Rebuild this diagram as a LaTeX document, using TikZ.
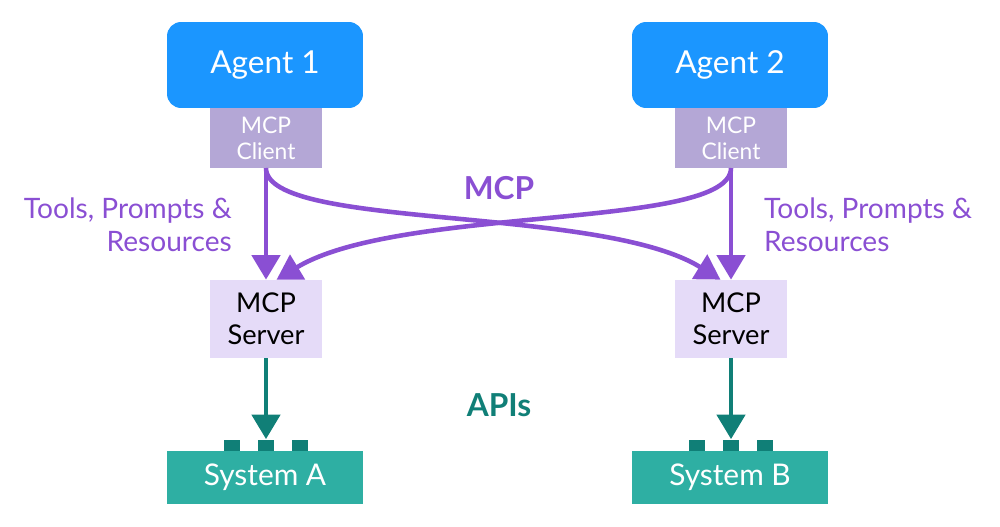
\documentclass[tikz,border=0pt]{standalone}
\usepackage{fontspec}
\setmainfont{Lato}
\usetikzlibrary{arrows.meta}
\definecolor{agent}{HTML}{1B96FF}
\definecolor{client}{HTML}{B4A7D6}
\definecolor{server}{HTML}{E5DBF8}
\definecolor{sys}{HTML}{2EAFA3}
\definecolor{port}{HTML}{107F77}
\definecolor{mcp}{HTML}{8A4FD3}
\begin{document}
\begin{tikzpicture}[x=0.02cm,y=-0.02cm,
 agentb/.style={fill=agent,rounded corners=8pt,minimum width=3.92cm,minimum height=1.72cm,text=white,font=\fontsize{18}{21}\selectfont,inner sep=0pt},
 clientb/.style={fill=client,minimum width=2.24cm,minimum height=1.2cm,text=white,font=\fontsize{13}{15}\selectfont,align=center,inner sep=0pt},
 serverb/.style={fill=server,minimum width=2.24cm,minimum height=1.56cm,font=\fontsize{15.5}{18}\selectfont,align=center,inner sep=0pt},
 sysb/.style={fill=sys,minimum width=3.92cm,minimum height=1.06cm,text=white,font=\fontsize{17}{20}\selectfont,inner sep=0pt},
 portb/.style={fill=port,minimum width=0.32cm,minimum height=0.22cm,inner sep=0pt},
 marr/.style={draw=mcp,line width=2.6pt,-{Triangle[length=14pt,width=16pt]}},
 tarr/.style={draw=port,line width=2.6pt,-{Triangle[length=14pt,width=16pt]}},
 lab/.style={text=mcp,font=\fontsize{16}{19}\selectfont,align=left}]
\useasboundingbox (0,0) rectangle (1000,527);
\node[clientb] (c1) at (266,138) {MCP\\Client};
\node[clientb] (c2) at (731,138) {MCP\\Client};
\node[agentb] (a1) at (265,65) {Agent 1};
\node[agentb] (a2) at (730,65) {Agent 2};
\node[serverb] (s1) at (266,319) {MCP\\Server};
\node[serverb] (s2) at (731,319) {MCP\\Server};
\node[sysb] (y1) at (265,477) {System A};
\node[sysb] (y2) at (730,477) {System B};
\foreach \n/\x in {p1/232,p2/266,p3/300,p4/697,p5/731,p6/765}
  \node[portb] (\n) at (\x,445) {};
\coordinate (c1b) at (266,168);
\coordinate (c2b) at (731,168);
\draw[marr] (c1b) -- (s1.north);
\draw[marr] (c2b) -- (s2.north);
\draw[marr] (c1b) .. controls (266,230) and (600,205) .. ([xshift=-6]s2.north);
\draw[marr] (c2b) .. controls (731,230) and (400,205) .. ([xshift=6]s1.north);
\draw[tarr] (s1.south) -- (p2.north);
\draw[tarr] (s2.south) -- (p5.north);
\node[text=mcp,font=\bfseries\fontsize{18}{21}\selectfont] (mcpl) at (499,188) {MCP};
\node[text=port,font=\bfseries\fontsize{18}{21}\selectfont] (apil) at (499,405) {APIs};
\node[lab,align=right,anchor=east] (t1) at (238,225) {Tools, Prompts \&\\Resources};
\node[lab,anchor=west] (t2) at (758,225) {Tools, Prompts \&\\Resources};
\end{tikzpicture}
\end{document}
